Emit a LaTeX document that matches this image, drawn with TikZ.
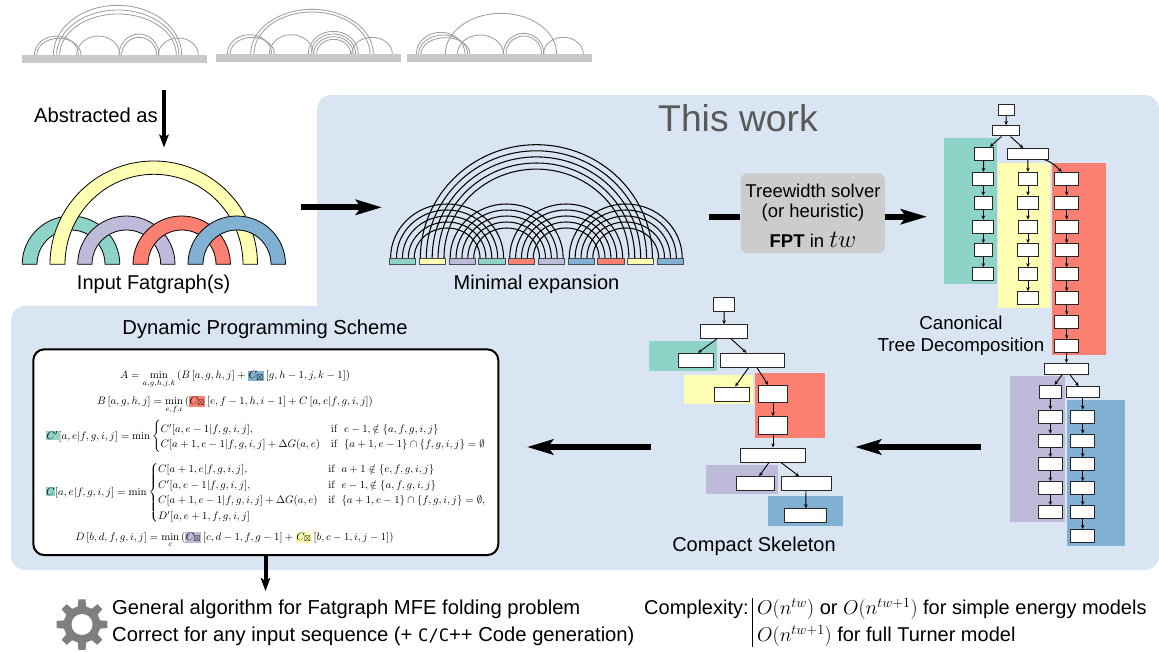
\RequirePackage{fix-cm}
\documentclass[tikz,border=0pt]{standalone}
\usepackage{amsmath,amssymb}
\usepackage[no-math]{fontspec}
\setmainfont{Liberation Sans}
\setmonofont{DejaVu Sans Mono}[Scale=0.85]
\usetikzlibrary{arrows.meta,shapes.geometric}
\definecolor{tealc}{HTML}{8DD3C7}
\definecolor{yellowc}{HTML}{FFFFB3}
\definecolor{purplec}{HTML}{BEBADA}
\definecolor{redc}{HTML}{FB8072}
\definecolor{bluec}{HTML}{80B1D3}
\definecolor{panel}{HTML}{DAE5F3}
\definecolor{thumb}{HTML}{A0A0A0}
\definecolor{barc}{HTML}{C9C9C9}
\definecolor{solver}{HTML}{CCCCCC}
\definecolor{titlec}{HTML}{595959}
\definecolor{gearc}{HTML}{7F7F7F}
\newcommand\ellcont[4]{-- (#1,#3) .. controls (#1,{#3+.5523*(#4-#3)}) and ({(#1+#2)/2-.5523*(#2-#1)/2},#4) .. ({(#1+#2)/2},#4) .. controls ({(#1+#2)/2+.5523*(#2-#1)/2},#4) and (#2,{#3+.5523*(#4-#3)}) .. (#2,#3)}
\newcommand\tharc[5]{\pgfmathsetmacro\thA{#1+#2/3}\pgfmathsetmacro\thB{#1+#3/3}\pgfmathsetmacro\thP{#4/3}\draw[thumbline] (\thA,#5) \ellcont{\thA}{\thB}{#5}{\thP};}
\newcommand\fatarc[7]{\draw[fatline,fill=#1] (#2,264.3) \ellcont{#2}{#3}{264.3}{#4} -- (#6,264.3) \ellcont{#6}{#5}{264.3}{#7} -- cycle;}
\newcommand\hlbox[2]{{\setlength\fboxsep{0.6pt}\colorbox{#1}{$#2$}}}
\newcommand\fs[1]{\fontsize{#1}{#1}\selectfont}
\newcommand\iftxt{\mathrm{if}\;\;}
\tikzset{
  thumbline/.style={draw=thumb,line width=.85pt},
  fatline/.style={draw=black,line width=.8pt},
  strand/.style={draw=black,line width=1.05pt},
  segbox/.style={draw=black!70,line width=.7pt,minimum width=26.3pt,minimum height=6pt,inner sep=0pt},
  tbox/.style={draw=black!85,fill=white,line width=1pt,inner sep=0pt,minimum height=13.3pt},
  con/.style={draw=black,line width=.9pt,-{Stealth[length=4pt,width=3.6pt]}},
  bigarrow/.style={draw=black,line width=6pt,-{Stealth[length=26pt,width=15pt,inset=5pt]}},
  midarrow/.style={draw=black,line width=4pt,-{Stealth[length=13pt,width=9.5pt,inset=3pt]}},
  lab/.style={font=\fs{20.2},inner sep=0pt,text=black},
  eqn/.style={inner sep=0pt,font=\fontsize{10.8}{13}\selectfont},
}
\begin{document}
\begin{tikzpicture}[x=1pt,y=-1pt]
\useasboundingbox (0,0) rectangle (1159,652);
\fill[white] (0,0) rectangle (1159,652);
% panel
\fill[panel] (317,306) -- (317,110) .. controls (317,101) and (323,95) .. (332,95) -- (1144,95)
  .. controls (1153,95) and (1159,101) .. (1159,110) -- (1159,555) .. controls (1159,564) and (1153,570) .. (1144,570)
  -- (26,570) .. controls (17,570) and (11,564) .. (11,555) -- (11,321) .. controls (11,312) and (17,306) .. (26,306) -- cycle;
% thumbnails
\fill[barc] (22,55) rectangle (207,62.7);
\fill[barc] (216,54) rectangle (401,62);
\fill[barc] (407,54) rectangle (592,62);
\foreach \a/\b/\p in {58/190/108,65/198/115,115/500/16,125/492/30,134/484/42,185/315/108,312/432/102,320/425/112,430/550/114}{\tharc{15}{\a}{\b}{\p}{55}}
\foreach \a/\b/\p in {52/185/104,60/193/112,122/490/28,132/480/36,178/310/104,295/445/94,303/437/102,311/430/110,320/422/118,425/547/112}{\tharc{210}{\a}{\b}{\p}{54}}
\foreach \a/\b/\p in {49/195/97,56/203/105,63/210/113,136/470/40,172/310/105,310/432/100,318/425/108,430/550/112}{\tharc{400}{\a}{\b}{\p}{54}}
% abstracted
\node[lab] (abs) at (96,115) {Abstracted as};
\coordinate (absA) at (164,90);
\coordinate (absB) at (164,147.5);
\draw[midarrow] (absA) -- (absB);
% fatgraph
\fatarc{tealc}{22.2}{119.8}{216}{37}{105}{230}
\fatarc{yellowc}{50}{257.5}{161}{65}{243}{174.3}
\fatarc{purplec}{77.7}{175}{216}{92}{160.7}{230}
\fatarc{redc}{133}{230.4}{216}{148}{216}{230}
\fatarc{bluec}{188}{285.5}{216}{203}{271}{230}
\node[lab,font=\fs{20}] (fat) at (153.7,284) {Input Fatgraph(s)};
\coordinate (fatA) at (301,207.3);
\coordinate (fatB) at (382,207.3);
\draw[bigarrow] (fatA) -- (fatB);
% expansion
\foreach \i/\j in {0/3,2/5,4/7,6/9}{
  \foreach \k in {0,...,4}{
    \pgfmathsetmacro\xa{389.3+29.77*\i+1.3+5.9*\k}
    \pgfmathsetmacro\xb{389.3+29.77*\j+25-5.9*\k}
    \pgfmathsetmacro\pk{204+6*\k}
    \draw[strand] (\xa,258) \ellcont{\xa}{\xb}{258}{\pk};
  }
}
\foreach \k in {0,...,4}{
  \pgfmathsetmacro\xa{389.3+29.77+1.3+5.9*\k}
  \pgfmathsetmacro\xb{389.3+29.77*8+25-5.9*\k}
  \pgfmathsetmacro\pk{144.7+6.1*\k}
  \draw[strand] (\xa,258) \ellcont{\xa}{\xb}{258}{\pk};
}
\foreach \i/\c in {0/tealc,1/yellowc,2/purplec,3/tealc,4/redc,5/purplec,6/bluec,7/redc,8/yellowc,9/bluec}{
  \node[segbox,fill=\c] (seg\i) at ({402.5+29.77*\i},261) {};
}
\node[lab,font=\fs{20}] (minexp) at (536.5,284) {Minimal expansion};
% title
\node[font=\fs{37.3},text=titlec,inner sep=0pt] (title) at (738,118) {This work};
% solver
\node[draw=none,fill=solver,rounded corners=7pt,minimum width=144.5pt,minimum height=80pt,inner sep=0pt] (solver) at (812.8,213.3) {};
\node[font=\fs{18.5},inner sep=0pt] (sl1) at (813,190.5) {Treewidth solver};
\node[font=\fs{18.5},inner sep=0pt] (sl2) at (813,212.5) {(or heuristic)};
\node[font=\fs{18.5},inner sep=0pt] (sl3) at (813,240) {\textbf{FPT} in {\fs{25}$tw$}};
\coordinate (solA) at (709,216.7);
\coordinate (solB) at (927,216.7);
\draw[line width=6pt] (solA) -- (solver.west |- solA);
\draw[draw=black,line width=6pt,-{Stealth[length=26pt,width=15pt,inset=5pt]}] (solver.east |- solB) -- (solB);
% tree decomposition backgrounds
\fill[tealc] (944.3,138) rectangle (996.7,283.7);
\fill[yellowc] (998,163) rectangle (1050,307.7);
\fill[redc] (1051.7,163) rectangle (1105.7,355.3);
\fill[purplec] (1010,375.7) rectangle (1065,521.7);
\fill[bluec] (1067.3,400.3) rectangle (1124.7,545.7);
% tree nodes
\node[tbox,minimum width=15.7pt,minimum height=10.7pt] (n0) at (1006.3,110) {};
\node[tbox,minimum width=26.6pt,minimum height=10.4pt] (n1) at (1006,130.8) {};
\node[tbox,minimum width=19pt] (t0) at (983.8,154) {};
\node[tbox,minimum width=41pt,minimum height=10.6pt] (big) at (1027.8,154) {};
\foreach \n/\y/\w in {1/179/21,2/202.7/18,3/226.7/21,4/250.3/18,5/274.3/21}{\node[tbox,minimum width=\w pt] (t\n) at (983.3,\y) {};}
\foreach \n/\y/\w in {1/179/18.5,2/202.7/21.3,3/226.7/18.5,4/250.3/21.3,5/274.3/18.5,6/298.3/21.3}{\node[tbox,minimum width=\w pt] (y\n) at (1028,\y) {};}
\foreach \n/\y/\w in {1/179/24,2/202.7/23.6,3/226.7/23.4,4/250.3/23.4,5/274.3/23.4,6/298.3/23.4,7/322/24,8/346/24}{\node[tbox,minimum width=\w pt] (r\n) at (1066.7,\y) {};}
\node[tbox,minimum width=44pt,minimum height=10.6pt] (l0) at (1066.3,368.7) {};
\node[tbox,minimum width=22.4pt] (p0) at (1050.5,392) {};
\node[tbox,minimum width=32.7pt,minimum height=10.6pt] (b0) at (1082.7,392) {};
\foreach \n/\y in {1/416.7,2/440.7,3/464.3,4/488.3,5/512.3}{\node[tbox,minimum width=24pt] (p\n) at (1050.3,\y) {};}
\foreach \n/\y in {1/416.7,2/440.7,3/464.3,4/488.3,5/512.3,6/536}{\node[tbox,minimum width=24pt] (b\n) at (1082.7,\y) {};}
% tree connectors
\draw[con] (n0) -- (n1);
\draw[con] ([xshift=-4.5pt]n1.south) -- ([xshift=6pt]t0.north);
\draw[con] ([xshift=4.5pt]n1.south) -- ([xshift=-4.5pt]big.north);
\draw[con] (t0) -- (t1); \draw[con] (big) -- (y1);
\draw[con] ([xshift=17pt]big.south) .. controls +(8,3) and +(-6,-6) .. ([xshift=-5pt]r1.north);
\foreach \a/\b in {1/2,2/3,3/4,4/5}{\draw[con] (t\a) -- (t\b);}
\foreach \a/\b in {1/2,2/3,3/4,4/5,5/6}{\draw[con] (y\a) -- (y\b);}
\foreach \a/\b in {1/2,2/3,3/4,4/5,5/6,6/7,7/8}{\draw[con] (r\a) -- (r\b);}
\draw[con] (r8) -- (l0);
\draw[con] ([xshift=-4pt]l0.south) -- ([xshift=4pt]p0.north);
\draw[con] ([xshift=3.5pt]l0.south) -- ([xshift=-4pt]b0.north);
\draw[con] (p0) -- (p1); \draw[con] (b0) -- (b1);
\foreach \a/\b in {1/2,2/3,3/4,4/5}{\draw[con] (p\a) -- (p\b);}
\foreach \a/\b in {1/2,2/3,3/4,4/5,5/6}{\draw[con] (b\a) -- (b\b);}
\node[lab,align=center,font=\fs{18.7}] (canon) at (961,335.5) {Canonical\\[3.5pt]Tree Decomposition};
% skeleton
\fill[tealc] (649,341) rectangle (717.3,370.7);
\fill[yellowc] (684,375) rectangle (752.7,404.3);
\fill[redc] (754.7,373) rectangle (825.3,437.7);
\fill[purplec] (706.3,464.7) rectangle (778,494.3);
\fill[bluec] (768.3,496.3) rectangle (843.3,525.7);
\node[tbox,minimum width=21pt,minimum height=13.7pt] (s0) at (724.2,304.2) {};
\node[tbox,minimum width=47.4pt,minimum height=13.6pt] (s1) at (724,331.5) {};
\node[tbox,minimum width=34.6pt,minimum height=14pt] (st) at (696,360.3) {};
\node[tbox,minimum width=64.4pt,minimum height=14pt] (s2) at (752.5,360.3) {};
\node[tbox,minimum width=34.7pt,minimum height=14pt] (sy) at (731.7,394) {};
\node[tbox,minimum width=29.4pt,minimum height=17.4pt] (sr1) at (773,394) {};
\node[tbox,minimum width=29.4pt,minimum height=17.6pt] (sr2) at (773,425.5) {};
\node[tbox,minimum width=65.4pt,minimum height=14pt] (s3) at (773,455) {};
\node[tbox,minimum width=38.3pt,minimum height=14pt] (sp) at (755.2,483.7) {};
\node[tbox,minimum width=50pt,minimum height=14pt] (s4) at (806,483.7) {};
\node[tbox,minimum width=42.3pt,minimum height=14pt] (sb) at (805.8,515.7) {};
\draw[con] (s0) -- (s1);
\draw[con] ([xshift=-7pt]s1.south) -- ([xshift=2pt]st.north);
\draw[con] ([xshift=7pt]s1.south) -- ([xshift=-6pt]s2.north);
\draw[con] ([xshift=-4pt]s2.south) -- ([xshift=3.5pt]sy.north);
\draw[con] ([xshift=4.5pt]s2.south) -- ([xshift=-5pt]sr1.north);
\draw[con] (sr1) -- (sr2);
\draw[con] (sr2) -- (s3);
\draw[con] ([xshift=-4pt]s3.south) -- ([xshift=4pt]sp.north);
\draw[con] ([xshift=8pt]s3.south) -- ([xshift=-7pt]s4.north);
\draw[con] (s4) -- (sb);
\node[lab,font=\fs{20}] (skel) at (754,546) {Compact Skeleton};
% horizontal arrows
\coordinate (hA) at (981,447);
\coordinate (hB) at (855,447);
\coordinate (hC) at (651,447);
\coordinate (hD) at (527,447);
\draw[bigarrow] (hA) -- (hB);
\draw[bigarrow] (hC) -- (hD);
% DP box
\node[font=\fs{20.2},inner sep=0pt] (dp) at (265,329) {Dynamic Programming Scheme};
\node[draw=black,fill=white,line width=2pt,rounded corners=11pt,minimum width=465pt,minimum height=205.7pt,inner sep=0pt] (dpbox) at (265.8,452.2) {};
\node[eqn,anchor=base] (e1) at (235,378.5) {$\displaystyle A=\min_{a,g,h,j,k}\left(B\left[a,g,h,j\right]+\hlbox{bluec}{C_{\boxtimes}}\left[g,h-1,j,k-1\right]\right)$};
\node[eqn,anchor=base] (e2) at (235,404) {$\displaystyle B\left[a,g,h,j\right]=\min_{e,f,i}\left(\hlbox{redc}{C_{\boxtimes}}\left[e,f-1,h,i-1\right]+C\left[a,e|f,g,i,j\right]\right)$};
\node[eqn] (e3) at (266,436.7) {$\hlbox{tealc}{C'}[a,e|f,g,i,j]=\min\begin{cases}C'[a,e-1|f,g,i,j], & \iftxt e-1,\notin\{a,f,g,i,j\}\\ C[a+1,e-1|f,g,i,j]+\Delta G(a,e) & \iftxt \{a+1,e-1\}\cap\{f,g,i,j\}=\emptyset\end{cases}$};
\node[eqn] (e4) at (266,492.7) {$\hlbox{tealc}{C}[a,e|f,g,i,j]=\min\begin{cases}C[a+1,e|f,g,i,j], & \iftxt a+1\notin\{e,f,g,i,j\}\\ C'[a,e-1|f,g,i,j], & \iftxt e-1,\notin\{a,f,g,i,j\}\\ C[a+1,e-1|f,g,i,j]+\Delta G(a,e) & \iftxt \{a+1,e-1\}\cap\{f,g,i,j\}=\emptyset,\\ D'[a,e+1,f,g,i,j]\end{cases}$};
\node[eqn,anchor=base] (e5) at (234.5,540) {$\displaystyle D\left[b,d,f,g,i,j\right]=\min_{c}\left(\hlbox{purplec}{C_{\boxtimes}}\left[c,d-1,f,g-1\right]+\hlbox{yellowc}{C_{\boxtimes}}\left[b,c-1,i,j-1\right]\right)$};
% output arrow
\coordinate (outB) at (265.5,591);
\draw[midarrow] (dpbox.south -| outB) -- (outB);
% gear
\begin{scope}[shift={(82,624.5)}]
\fill[gearc] (77:18.5) \foreach \a in {90,135,...,405}{ -- (\a-13:18.5) -- (\a-8:25.5) -- (\a+8:25.5) -- (\a+13:18.5)} -- cycle;
\fill[white] (0,0) circle[radius=10.5pt];
\end{scope}
% bottom text
\node[lab,anchor=west] (g1) at (112,609) {General algorithm for Fatgraph MFE folding problem};
\node[lab,anchor=west] (g2) at (112,636) {Correct for any input sequence (+ {\ttfamily C/C}++ Code generation)};
\node[lab,font=\fs{20},anchor=west] (cx) at (644,609) {Complexity:};
\coordinate (barA) at (752,598);
\coordinate (barB) at (752,647);
\draw[line width=1pt] (barA) -- (barB);
\node[lab,font=\fs{20},anchor=west] (c1) at (757,609) {$O(n^{tw})$ or $O(n^{tw+1})$ for simple energy models};
\node[lab,font=\fs{20},anchor=west] (c2) at (757,636) {$O(n^{tw+1})$ for full Turner model};
\end{tikzpicture}
\end{document}
